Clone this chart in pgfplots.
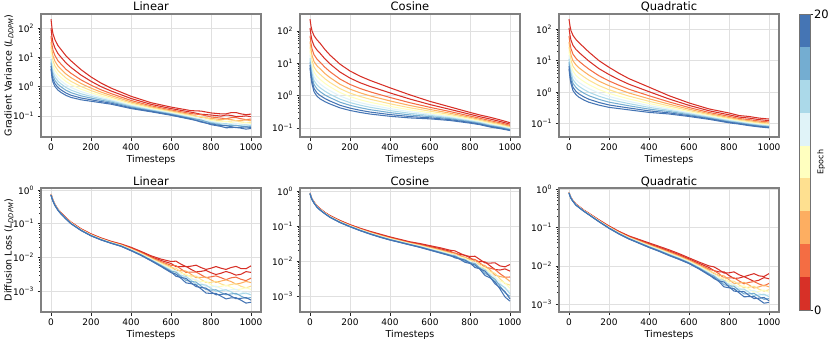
\documentclass[border=0pt]{standalone}
\usepackage{pgfplots}
\usepackage{pgfplotstable}
\pgfplotsset{compat=1.18}
\usepackage{fontspec}
\setmainfont{DejaVu Sans}

\definecolor{cbA}{HTML}{D73027}
\definecolor{cbB}{HTML}{F46D43}
\definecolor{cbC}{HTML}{FDAE61}
\definecolor{cbD}{HTML}{FEE090}
\definecolor{cbE}{HTML}{FFFFBF}
\definecolor{cbF}{HTML}{E0F3F8}
\definecolor{cbG}{HTML}{ABD9E9}
\definecolor{cbH}{HTML}{74ADD1}
\definecolor{cbI}{HTML}{4575B4}

% gradient variance, linear schedule (columns: epochs 0,2,...,20)
\pgfplotstableread{
t e0 e1 e2 e3 e4 e5 e6 e7 e8 e9 e10
0 200 98.6 52.7 33.0 22.3 15.7 11.5 8.71 6.62 5.04 3.98
5 100 49.4 26.4 16.5 11.2 7.85 5.74 4.37 3.32 2.52 2.00
10 63.1 31.8 17.3 11.0 7.52 5.35 3.94 3.02 2.32 1.77 1.41
20 39.8 20.5 11.4 7.31 5.06 3.63 2.70 2.09 1.61 1.25 1.00
35 25.1 13.4 7.64 5.02 3.54 2.58 1.95 1.53 1.20 0.935 0.759
50 18.6 10.1 5.89 3.93 2.80 2.07 1.57 1.24 0.980 0.773 0.631
75 11.2 6.41 3.90 2.69 1.97 1.49 1.16 0.933 0.752 0.604 0.501
100 7.59 4.52 2.85 2.02 1.51 1.17 0.929 0.759 0.621 0.507 0.427
150 3.80 2.48 1.70 1.28 1.01 0.815 0.673 0.570 0.483 0.409 0.355
200 2.14 1.52 1.12 0.887 0.733 0.618 0.530 0.463 0.406 0.355 0.316
250 1.32 0.998 0.780 0.649 0.556 0.484 0.428 0.384 0.344 0.309 0.282
300 0.891 0.710 0.579 0.498 0.439 0.392 0.354 0.324 0.296 0.271 0.251
400 0.468 0.393 0.337 0.300 0.272 0.249 0.231 0.216 0.202 0.188 0.178
500 0.282 0.248 0.221 0.203 0.189 0.177 0.167 0.159 0.151 0.144 0.138
600 0.200 0.178 0.160 0.148 0.139 0.131 0.125 0.119 0.114 0.109 0.105
700 0.151 0.134 0.120 0.110 0.103 0.0966 0.0914 0.0871 0.0830 0.0791 0.0759
750 0.146 0.114 0.110 0.0895 0.0933 0.0777 0.0805 0.0682 0.0726 0.0616 0.0648
800 0.126 0.107 0.0920 0.0824 0.0752 0.0692 0.0643 0.0603 0.0565 0.0530 0.0501
850 0.117 0.0984 0.0839 0.0745 0.0675 0.0618 0.0570 0.0532 0.0497 0.0463 0.0437
875 0.117 0.107 0.0801 0.0784 0.0637 0.0646 0.0525 0.0544 0.0456 0.0472 0.0392
900 0.129 0.104 0.0865 0.0750 0.0667 0.0601 0.0547 0.0504 0.0463 0.0428 0.0398
925 0.130 0.0949 0.0874 0.0682 0.0685 0.0554 0.0558 0.0461 0.0479 0.0396 0.0408
950 0.117 0.0959 0.0800 0.0700 0.0625 0.0565 0.0515 0.0476 0.0441 0.0406 0.0380
975 0.110 0.100 0.0744 0.0727 0.0587 0.0591 0.0478 0.0495 0.0414 0.0425 0.0353
1000 0.115 0.0938 0.0782 0.0684 0.0611 0.0552 0.0504 0.0466 0.0431 0.0397 0.0372
}\gvlin

\pgfplotstableread{
t e0 e1 e2 e3 e4 e5 e6 e7 e8 e9 e10
0 229 122 70.3 46.2 32.7 23.9 18.1 14.2 11.1 8.73 7.08
5 141 72.8 40.4 25.9 17.9 12.9 9.59 7.41 5.73 4.43 3.55
10 100 50.7 27.7 17.6 12.1 8.59 6.35 4.88 3.74 2.87 2.29
20 70.8 34.6 18.3 11.3 7.60 5.32 3.86 2.92 2.21 1.67 1.32
35 52.5 25.5 13.4 8.32 5.57 3.88 2.82 2.13 1.61 1.21 0.955
50 41.7 20.4 10.8 6.75 4.54 3.18 2.31 1.75 1.33 1.01 0.794
75 26.3 13.5 7.46 4.78 3.30 2.37 1.76 1.36 1.04 0.807 0.646
100 17.8 9.51 5.46 3.59 2.54 1.86 1.41 1.10 0.863 0.678 0.550
150 9.33 5.33 3.24 2.23 1.64 1.24 0.966 0.776 0.625 0.502 0.417
200 5.75 3.47 2.21 1.58 1.19 0.927 0.740 0.608 0.500 0.410 0.347
250 3.98 2.50 1.66 1.22 0.940 0.745 0.605 0.506 0.423 0.352 0.302
300 2.95 1.92 1.31 0.982 0.773 0.622 0.514 0.435 0.367 0.310 0.269
400 1.74 1.21 0.873 0.684 0.558 0.466 0.396 0.344 0.298 0.259 0.229
500 1.05 0.780 0.601 0.493 0.419 0.362 0.318 0.283 0.252 0.225 0.204
600 0.661 0.528 0.433 0.373 0.330 0.294 0.267 0.244 0.224 0.205 0.191
700 0.447 0.375 0.321 0.286 0.260 0.238 0.220 0.206 0.193 0.180 0.170
800 0.302 0.264 0.233 0.213 0.197 0.185 0.173 0.164 0.156 0.148 0.141
850 0.251 0.222 0.199 0.183 0.171 0.160 0.152 0.145 0.138 0.131 0.126
900 0.214 0.189 0.169 0.156 0.145 0.136 0.129 0.123 0.117 0.112 0.107
950 0.178 0.159 0.144 0.134 0.126 0.119 0.113 0.108 0.104 0.0991 0.0955
1000 0.145 0.131 0.120 0.112 0.106 0.101 0.0966 0.0929 0.0893 0.0859 0.0832
}\gvcos

\pgfplotstableread{
t e0 e1 e2 e3 e4 e5 e6 e7 e8 e9 e10
0 209 109 60.7 39.2 27.2 19.6 14.7 11.4 8.81 6.84 5.50
5 126 63.5 34.6 21.9 15.0 10.7 7.87 6.03 4.62 3.54 2.82
10 89.1 44.5 23.9 15.0 10.2 7.21 5.30 4.04 3.08 2.35 1.86
20 63.1 30.5 16.0 9.89 6.61 4.60 3.33 2.51 1.90 1.43 1.12
35 46.8 22.6 11.9 7.33 4.90 3.41 2.47 1.86 1.41 1.06 0.832
50 37.2 18.2 9.59 5.94 3.99 2.79 2.03 1.53 1.16 0.879 0.692
75 26.3 13.2 7.11 4.49 3.05 2.16 1.59 1.21 0.927 0.708 0.562
100 18.6 9.64 5.36 3.46 2.40 1.73 1.29 0.995 0.771 0.596 0.479
150 10.0 5.57 3.32 2.24 1.62 1.21 0.935 0.745 0.593 0.473 0.389
200 6.17 3.64 2.28 1.61 1.20 0.923 0.730 0.594 0.484 0.394 0.331
250 3.98 2.50 1.66 1.22 0.940 0.745 0.605 0.506 0.423 0.352 0.302
300 2.69 1.79 1.24 0.944 0.752 0.612 0.509 0.435 0.371 0.316 0.275
400 1.45 1.04 0.773 0.619 0.515 0.437 0.377 0.331 0.291 0.256 0.229
500 0.776 0.611 0.493 0.420 0.367 0.326 0.293 0.267 0.243 0.221 0.204
600 0.457 0.383 0.327 0.290 0.262 0.240 0.222 0.207 0.193 0.180 0.170
700 0.295 0.258 0.228 0.208 0.193 0.180 0.169 0.161 0.152 0.145 0.138
800 0.219 0.192 0.172 0.157 0.147 0.138 0.130 0.124 0.117 0.112 0.107
850 0.182 0.163 0.147 0.137 0.129 0.122 0.116 0.111 0.106 0.101 0.0977
900 0.170 0.151 0.135 0.125 0.117 0.110 0.104 0.0995 0.0951 0.0906 0.0871
950 0.151 0.135 0.122 0.112 0.105 0.0995 0.0946 0.0904 0.0863 0.0826 0.0794
1000 0.141 0.126 0.114 0.105 0.0984 0.0929 0.0883 0.0843 0.0805 0.0771 0.0741
}\gvquad

% diffusion loss
\pgfplotstableread{
t e0 e1 e2 e3 e4 e5 e6 e7 e8 e9 e10
0 0.759 0.750 0.741 0.735 0.730 0.724 0.721 0.718 0.715 0.711 0.708
5 0.631 0.618 0.607 0.598 0.592 0.585 0.579 0.575 0.570 0.566 0.562
10 0.501 0.495 0.490 0.485 0.482 0.479 0.476 0.474 0.472 0.470 0.468
20 0.372 0.367 0.363 0.360 0.357 0.355 0.353 0.352 0.350 0.348 0.347
35 0.269 0.266 0.263 0.261 0.259 0.257 0.256 0.255 0.254 0.252 0.251
50 0.214 0.210 0.207 0.205 0.203 0.201 0.200 0.199 0.197 0.196 0.195
75 0.151 0.149 0.147 0.145 0.144 0.143 0.142 0.141 0.140 0.139 0.138
100 0.112 0.110 0.108 0.106 0.105 0.104 0.103 0.102 0.101 0.101 0.100
150 0.0708 0.0693 0.0681 0.0671 0.0664 0.0656 0.0650 0.0646 0.0640 0.0635 0.0631
200 0.0501 0.0489 0.0479 0.0470 0.0463 0.0458 0.0453 0.0449 0.0445 0.0441 0.0437
250 0.0380 0.0371 0.0363 0.0356 0.0352 0.0348 0.0344 0.0340 0.0337 0.0334 0.0331
300 0.0302 0.0294 0.0288 0.0283 0.0279 0.0276 0.0273 0.0270 0.0268 0.0265 0.0263
350 0.0251 0.0244 0.0238 0.0233 0.0230 0.0226 0.0223 0.0221 0.0218 0.0216 0.0214
400 0.0200 0.0191 0.0185 0.0179 0.0175 0.0172 0.0169 0.0166 0.0163 0.0161 0.0158
450 0.0151 0.0144 0.0138 0.0133 0.0130 0.0126 0.0124 0.0121 0.0119 0.0117 0.0115
500 0.0112 0.0105 0.00998 0.00957 0.00925 0.00897 0.00873 0.00851 0.00832 0.00811 0.00794
550 0.00891 0.00813 0.00750 0.00706 0.00671 0.00641 0.00615 0.00594 0.00574 0.00553 0.00537
600 0.00759 0.00662 0.00586 0.00535 0.00495 0.00463 0.00436 0.00413 0.00392 0.00372 0.00355
625 0.00775 0.00533 0.00568 0.00409 0.00477 0.00356 0.00405 0.00305 0.00366 0.00276 0.00321
650 0.00631 0.00530 0.00454 0.00405 0.00367 0.00337 0.00311 0.00291 0.00272 0.00254 0.00240
675 0.00530 0.00543 0.00359 0.00394 0.00289 0.00326 0.00235 0.00273 0.00207 0.00239 0.00176
700 0.00550 0.00443 0.00366 0.00317 0.00281 0.00252 0.00229 0.00211 0.00194 0.00178 0.00166
725 0.00588 0.00372 0.00369 0.00251 0.00280 0.00200 0.00220 0.00160 0.00186 0.00136 0.00153
750 0.00501 0.00386 0.00306 0.00257 0.00222 0.00195 0.00174 0.00157 0.00142 0.00128 0.00117
775 0.00441 0.00412 0.00251 0.00260 0.00181 0.00195 0.00136 0.00151 0.00111 0.00123 0.000878
800 0.00479 0.00351 0.00266 0.00216 0.00182 0.00156 0.00136 0.00120 0.00107 0.000944 0.000851
825 0.00536 0.00311 0.00284 0.00182 0.00194 0.00132 0.00140 0.000986 0.00110 0.000779 0.000854
850 0.00479 0.00340 0.00250 0.00199 0.00164 0.00138 0.00119 0.00104 0.000908 0.000794 0.000708
875 0.00441 0.00383 0.00219 0.00216 0.00144 0.00150 0.00100 0.00110 0.000779 0.000843 0.000588
900 0.00501 0.00345 0.00248 0.00193 0.00157 0.00130 0.00110 0.000955 0.000826 0.000714 0.000631
925 0.00542 0.00298 0.00260 0.00161 0.00166 0.00110 0.00113 0.000782 0.000858 0.000595 0.000640
950 0.00468 0.00317 0.00224 0.00173 0.00139 0.00115 0.000964 0.000828 0.000711 0.000611 0.000537
975 0.00462 0.00379 0.00205 0.00194 0.00125 0.00127 0.000827 0.000878 0.000610 0.000645 0.000441
1000 0.00562 0.00360 0.00242 0.00179 0.00140 0.00112 0.000916 0.000769 0.000646 0.000543 0.000468
}\dllin

\pgfplotstableread{
t e0 e1 e2 e3 e4 e5 e6 e7 e8 e9 e10
0 0.891 0.883 0.877 0.873 0.869 0.865 0.861 0.859 0.857 0.853 0.851
5 0.708 0.701 0.697 0.693 0.690 0.687 0.684 0.682 0.681 0.678 0.676
10 0.603 0.597 0.593 0.590 0.587 0.585 0.582 0.581 0.579 0.577 0.575
20 0.490 0.484 0.479 0.474 0.471 0.468 0.466 0.463 0.461 0.459 0.457
35 0.380 0.374 0.368 0.365 0.361 0.358 0.356 0.353 0.351 0.348 0.347
50 0.316 0.311 0.306 0.303 0.301 0.298 0.296 0.294 0.292 0.290 0.288
75 0.245 0.242 0.238 0.235 0.233 0.231 0.230 0.228 0.226 0.225 0.224
100 0.200 0.195 0.192 0.189 0.187 0.185 0.183 0.182 0.180 0.179 0.178
150 0.145 0.141 0.138 0.136 0.134 0.132 0.131 0.129 0.128 0.127 0.126
200 0.110 0.107 0.105 0.103 0.101 0.100 0.0991 0.0982 0.0973 0.0964 0.0955
250 0.0871 0.0845 0.0824 0.0809 0.0796 0.0785 0.0774 0.0766 0.0757 0.0748 0.0741
300 0.0708 0.0685 0.0665 0.0650 0.0638 0.0628 0.0619 0.0611 0.0603 0.0596 0.0589
350 0.0589 0.0568 0.0548 0.0536 0.0525 0.0515 0.0506 0.0499 0.0492 0.0484 0.0479
400 0.0490 0.0472 0.0456 0.0446 0.0437 0.0429 0.0421 0.0415 0.0409 0.0403 0.0398
450 0.0417 0.0402 0.0388 0.0379 0.0372 0.0365 0.0358 0.0353 0.0348 0.0343 0.0339
500 0.0355 0.0342 0.0330 0.0323 0.0316 0.0310 0.0305 0.0301 0.0296 0.0292 0.0288
550 0.0316 0.0302 0.0290 0.0281 0.0274 0.0269 0.0263 0.0258 0.0254 0.0249 0.0245
600 0.0275 0.0261 0.0249 0.0240 0.0233 0.0227 0.0221 0.0217 0.0212 0.0208 0.0204
650 0.0240 0.0225 0.0213 0.0205 0.0198 0.0192 0.0187 0.0182 0.0178 0.0173 0.0170
700 0.0204 0.0191 0.0180 0.0172 0.0166 0.0161 0.0156 0.0152 0.0148 0.0145 0.0141
725 0.0195 0.0163 0.0170 0.0146 0.0158 0.0137 0.0147 0.0128 0.0140 0.0123 0.0132
750 0.0166 0.0155 0.0145 0.0139 0.0133 0.0129 0.0125 0.0121 0.0118 0.0115 0.0112
775 0.0143 0.0147 0.0121 0.0129 0.0112 0.0121 0.0103 0.0111 0.00979 0.0106 0.00917
800 0.0135 0.0124 0.0115 0.0109 0.0104 0.0100 0.00964 0.00933 0.00904 0.00875 0.00851
825 0.0137 0.00990 0.0111 0.00830 0.00998 0.00764 0.00894 0.00688 0.00842 0.00651 0.00770
850 0.0110 0.00977 0.00881 0.00815 0.00764 0.00721 0.00685 0.00655 0.00625 0.00598 0.00575
875 0.00881 0.00946 0.00654 0.00741 0.00560 0.00648 0.00478 0.00564 0.00437 0.00513 0.00384
900 0.00871 0.00731 0.00627 0.00558 0.00507 0.00465 0.00430 0.00402 0.00376 0.00351 0.00331
925 0.00889 0.00572 0.00573 0.00394 0.00444 0.00319 0.00353 0.00259 0.00301 0.00222 0.00252
950 0.00724 0.00551 0.00433 0.00360 0.00309 0.00270 0.00239 0.00215 0.00193 0.00174 0.00158
975 0.00682 0.00596 0.00342 0.00338 0.00227 0.00236 0.00158 0.00173 0.00123 0.00133 0.000933
1000 0.00794 0.00514 0.00349 0.00261 0.00205 0.00165 0.00136 0.00115 0.000971 0.000818 0.000708
}\dlcos

\pgfplotstableread{
t e0 e1 e2 e3 e4 e5 e6 e7 e8 e9 e10
0 0.832 0.824 0.818 0.815 0.811 0.807 0.804 0.802 0.800 0.796 0.794
5 0.692 0.685 0.681 0.678 0.675 0.672 0.668 0.667 0.665 0.662 0.661
10 0.603 0.597 0.593 0.590 0.587 0.585 0.582 0.581 0.579 0.577 0.575
20 0.501 0.497 0.493 0.491 0.489 0.486 0.484 0.483 0.482 0.480 0.479
35 0.407 0.403 0.398 0.394 0.392 0.389 0.387 0.385 0.384 0.382 0.380
50 0.355 0.351 0.347 0.344 0.341 0.339 0.337 0.336 0.334 0.333 0.331
75 0.282 0.279 0.275 0.273 0.271 0.269 0.268 0.267 0.265 0.264 0.263
100 0.234 0.231 0.227 0.225 0.223 0.221 0.219 0.218 0.216 0.215 0.214
150 0.158 0.155 0.152 0.150 0.149 0.147 0.146 0.145 0.143 0.142 0.141
200 0.110 0.107 0.105 0.103 0.101 0.100 0.0991 0.0982 0.0973 0.0964 0.0955
250 0.0794 0.0771 0.0752 0.0738 0.0726 0.0716 0.0706 0.0698 0.0690 0.0682 0.0676
300 0.0603 0.0583 0.0566 0.0553 0.0543 0.0535 0.0527 0.0520 0.0513 0.0507 0.0501
350 0.0490 0.0470 0.0453 0.0441 0.0431 0.0422 0.0414 0.0407 0.0401 0.0394 0.0389
400 0.0398 0.0378 0.0362 0.0351 0.0341 0.0333 0.0325 0.0319 0.0313 0.0307 0.0302
450 0.0324 0.0307 0.0292 0.0282 0.0274 0.0267 0.0260 0.0255 0.0249 0.0244 0.0240
500 0.0263 0.0247 0.0234 0.0224 0.0217 0.0210 0.0205 0.0200 0.0195 0.0190 0.0186
550 0.0209 0.0196 0.0186 0.0178 0.0172 0.0167 0.0163 0.0158 0.0155 0.0151 0.0148
600 0.0162 0.0152 0.0144 0.0138 0.0134 0.0130 0.0126 0.0123 0.0120 0.0117 0.0115
650 0.0126 0.0117 0.0109 0.0104 0.00998 0.00962 0.00931 0.00904 0.00877 0.00853 0.00832
700 0.0100 0.00906 0.00828 0.00776 0.00735 0.00698 0.00668 0.00643 0.00618 0.00594 0.00575
725 0.00944 0.00755 0.00755 0.00626 0.00663 0.00561 0.00590 0.00505 0.00545 0.00466 0.00497
750 0.00794 0.00698 0.00624 0.00571 0.00532 0.00500 0.00472 0.00449 0.00427 0.00406 0.00389
775 0.00652 0.00703 0.00484 0.00550 0.00415 0.00482 0.00354 0.00418 0.00324 0.00381 0.00285
800 0.00661 0.00562 0.00486 0.00438 0.00400 0.00369 0.00343 0.00322 0.00303 0.00284 0.00269
825 0.00699 0.00470 0.00490 0.00348 0.00401 0.00295 0.00333 0.00249 0.00296 0.00221 0.00255
850 0.00589 0.00484 0.00407 0.00358 0.00321 0.00292 0.00267 0.00248 0.00230 0.00213 0.00200
875 0.00524 0.00526 0.00342 0.00371 0.00269 0.00302 0.00216 0.00248 0.00186 0.00214 0.00157
900 0.00575 0.00456 0.00372 0.00318 0.00279 0.00249 0.00224 0.00205 0.00187 0.00171 0.00158
925 0.00629 0.00396 0.00391 0.00265 0.00295 0.00209 0.00229 0.00166 0.00193 0.00141 0.00160
950 0.00550 0.00425 0.00338 0.00285 0.00247 0.00217 0.00194 0.00175 0.00159 0.00144 0.00132
975 0.00530 0.00496 0.00303 0.00314 0.00219 0.00236 0.00164 0.00183 0.00135 0.00150 0.00107
1000 0.00631 0.00462 0.00351 0.00285 0.00240 0.00206 0.00179 0.00158 0.00141 0.00124 0.00112
}\dlquad

\newcommand{\epochplots}[1]{%
\addplot[cbA] table[x=t,y=e0]{#1};
\addplot[cbA] table[x=t,y=e1]{#1};
\addplot[cbB] table[x=t,y=e2]{#1};
\addplot[cbC] table[x=t,y=e3]{#1};
\addplot[cbD] table[x=t,y=e4]{#1};
\addplot[cbE] table[x=t,y=e5]{#1};
\addplot[cbF] table[x=t,y=e6]{#1};
\addplot[cbG] table[x=t,y=e7]{#1};
\addplot[cbH] table[x=t,y=e8]{#1};
\addplot[cbI] table[x=t,y=e9]{#1};
\addplot[cbI] table[x=t,y=e10]{#1};
}

\pgfplotsset{
  mypanel/.style={
    scale only axis, width=220pt, anchor=north west,
    xmin=-50, xmax=1050,
    xtick={0,200,400,600,800,1000},
    xticklabels={0,200,400,600,800,1000},
    grid=major, major grid style={black!12, line width=0.6pt},
    axis line style={black!50, line width=1.1pt},
    tick align=outside, xtick pos=left, ytick pos=left,
    major tick length=3.5pt, minor tick length=2pt,
    tick style={black!85, line width=0.6pt},
    ticklabel style={font=\fontsize{9}{10}\selectfont},
    label style={font=\fontsize{9.5}{11}\selectfont},
    every axis title/.style={at={(0.5,1)}, anchor=base, yshift=3pt,
      font=\fontsize{11.5}{13}\selectfont},
    xlabel={Timesteps},
    xlabel style={yshift=2pt},
    ylabel style={yshift=-7pt},
    every axis plot/.append style={line width=1.05pt, mark=none},
  },
  mytop/.style={height=123pt,
    ytick={0.1,1,10,100},
    yticklabels={10\textsuperscript{−1},10\textsuperscript{0},10\textsuperscript{1},10\textsuperscript{2}}},
  mybot/.style={height=124pt,
    ytick={0.001,0.01,0.1,1},
    yticklabels={10\textsuperscript{−3},10\textsuperscript{−2},10\textsuperscript{−1},10\textsuperscript{0}}},
}

\begin{document}
\begin{tikzpicture}
\path[use as bounding box] (0,0) rectangle (830pt,-339pt);

\begin{axis}[ymode=log, mypanel, mytop, at={(41pt,-14pt)}, title={Linear}, ymin=0.019, ymax=302,
  ylabel={Gradient Variance (\textit{L}\textsubscript{\textit{DDPM}})}]
\epochplots{\gvlin}
\end{axis}
\begin{axis}[ymode=log, mypanel, mytop, at={(300pt,-14pt)}, title={Cosine}, ymin=0.0525, ymax=331]
\epochplots{\gvcos}
\end{axis}
\begin{axis}[ymode=log, mypanel, mytop, at={(559pt,-14pt)}, title={Quadratic}, ymin=0.038, ymax=302]
\epochplots{\gvquad}
\end{axis}

\begin{axis}[ymode=log, mypanel, mybot, at={(41pt,-188pt)}, title={Linear}, ymin=0.00024, ymax=1.15,
  ylabel={Diffusion Loss (\textit{L}\textsubscript{\textit{DDPM}})}]
\epochplots{\dllin}
\end{axis}
\begin{axis}[ymode=log, mypanel, mybot, at={(300pt,-188pt)}, title={Cosine}, ymin=0.000347, ymax=1.23]
\epochplots{\dlcos}
\end{axis}
\begin{axis}[ymode=log, mypanel, mybot, at={(559pt,-188pt)}, title={Quadratic}, ymin=0.00063, ymax=1.07]
\epochplots{\dlquad}
\end{axis}

% colour bar
\begin{axis}[scale only axis, width=11pt, height=296pt, anchor=north west, at={(799pt,-14pt)},
  xmin=0, xmax=1, ymin=0, ymax=20, xtick=\empty,
  ytick={0,20}, yticklabels={0,20}, yticklabel pos=right, ytick pos=right,
  tick align=outside, major tick length=3pt,
  tick style={black!85, line width=0.6pt},
  axis line style={black!55, line width=0.8pt},
  yticklabel style={font=\fontsize{11.5}{13}\selectfont, inner sep=0.8pt},
  ylabel={Epoch},
  ylabel style={font=\fontsize{8}{9}\selectfont, at={([xshift=6.5pt]rel axis cs:1,0.5)},
    anchor=north, inner sep=0.5pt, yshift=0pt},
  axis on top]
\addplot[fill=cbA, draw=none] coordinates {(0,0) (1,0) (1,2.2222) (0,2.2222)} -- cycle;
\addplot[fill=cbB, draw=none] coordinates {(0,2.2222) (1,2.2222) (1,4.4444) (0,4.4444)} -- cycle;
\addplot[fill=cbC, draw=none] coordinates {(0,4.4444) (1,4.4444) (1,6.6667) (0,6.6667)} -- cycle;
\addplot[fill=cbD, draw=none] coordinates {(0,6.6667) (1,6.6667) (1,8.8889) (0,8.8889)} -- cycle;
\addplot[fill=cbE, draw=none] coordinates {(0,8.8889) (1,8.8889) (1,11.1111) (0,11.1111)} -- cycle;
\addplot[fill=cbF, draw=none] coordinates {(0,11.1111) (1,11.1111) (1,13.3333) (0,13.3333)} -- cycle;
\addplot[fill=cbG, draw=none] coordinates {(0,13.3333) (1,13.3333) (1,15.5556) (0,15.5556)} -- cycle;
\addplot[fill=cbH, draw=none] coordinates {(0,15.5556) (1,15.5556) (1,17.7778) (0,17.7778)} -- cycle;
\addplot[fill=cbI, draw=none] coordinates {(0,17.7778) (1,17.7778) (1,20) (0,20)} -- cycle;
\end{axis}
\end{tikzpicture}
\end{document}
